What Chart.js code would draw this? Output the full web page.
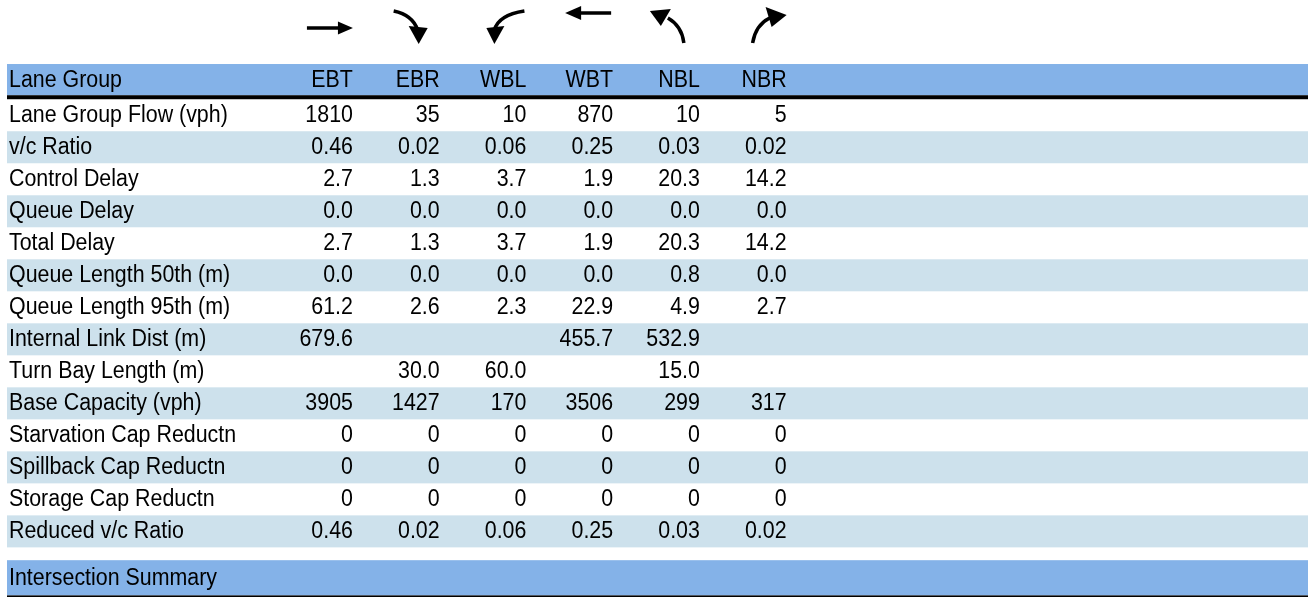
<!DOCTYPE HTML>
<html>
<head>
    <script src="https://cdn.jsdelivr.net/npm/chart.js"></script>
    <style>
        html, body { margin: 0; padding: 0; background: #ffffff; }
        #chartContainer { width: 1308px; height: 597px; }
    </style>
</head>
<body>

<div id="chartContainer">
    <canvas id="myChart" width="1308" height="597"></canvas>
</div>

<script type="text/javascript">
    // table content
    const headerLabel = 'Lane Group';
    const summaryLabel = 'Intersection Summary';
    const colLabels = ['EBT', 'EBR', 'WBL', 'WBT', 'NBL', 'NBR'];
    const rowLabels = [
        'Lane Group Flow (vph)',
        'v/c Ratio',
        'Control Delay',
        'Queue Delay',
        'Total Delay',
        'Queue Length 50th (m)',
        'Queue Length 95th (m)',
        'Internal Link Dist (m)',
        'Turn Bay Length (m)',
        'Base Capacity (vph)',
        'Starvation Cap Reductn',
        'Spillback Cap Reductn',
        'Storage Cap Reductn',
        'Reduced v/c Ratio'
    ];
    const rowDecimals = [0, 2, 1, 1, 1, 1, 1, 1, 1, 0, 0, 0, 0, 2];

    const ebt = [1810, 0.46, 2.7, 0.0, 2.7, 0.0, 61.2, 679.6, null, 3905, 0, 0, 0, 0.46];
    const ebr = [35, 0.02, 1.3, 0.0, 1.3, 0.0, 2.6, null, 30.0, 1427, 0, 0, 0, 0.02];
    const wbl = [10, 0.06, 3.7, 0.0, 3.7, 0.0, 2.3, null, 60.0, 170, 0, 0, 0, 0.06];
    const wbt = [870, 0.25, 1.9, 0.0, 1.9, 0.0, 22.9, 455.7, null, 3506, 0, 0, 0, 0.25];
    const nbl = [10, 0.03, 20.3, 0.0, 20.3, 0.8, 4.9, 532.9, 15.0, 299, 0, 0, 0, 0.03];
    const nbr = [5, 0.02, 14.2, 0.0, 14.2, 0.0, 2.7, null, null, 317, 0, 0, 0, 0.02];

    const columns = [ebt, ebr, wbl, wbt, nbl, nbr];

    const headerBlue = 'rgb(132,178,232)';
    const stripeBlue = 'rgb(205,225,236)';
    const textFont = '23px "Liberation Sans", Arial, sans-serif';
    const textSqueeze = 0.93;   // the report font is a bit condensed

    // condensed text helper
    function putText(ctx, str, px, py, align) {
        ctx.save();
        ctx.translate(px, py);
        ctx.scale(textSqueeze, 1);
        ctx.textAlign = align;
        ctx.fillText(str, 0, 0);
        ctx.restore();
    }

    // turn arrows, drawn relative to the right edge of their column
    function drawArrow(ctx, name, R) {
        ctx.save();
        ctx.strokeStyle = '#000';
        ctx.fillStyle = '#000';
        ctx.lineWidth = 3.5;
        ctx.beginPath();
        if (name == 'EBT') {
            ctx.moveTo(R - 47, 28); ctx.lineTo(R - 14, 28);
            ctx.stroke();
            ctx.beginPath();
            ctx.moveTo(R - 16, 21.5); ctx.lineTo(R - 1, 28); ctx.lineTo(R - 16, 34.5);
        } else if (name == 'EBR') {
            ctx.moveTo(R - 47, 11); ctx.quadraticCurveTo(R - 28, 15, R - 23, 30);
            ctx.stroke();
            ctx.beginPath();
            ctx.moveTo(R - 32, 26); ctx.lineTo(R - 13, 28); ctx.lineTo(R - 22, 44);
        } else if (name == 'WBL') {
            ctx.moveTo(R - 3, 11); ctx.quadraticCurveTo(R - 29, 15, R - 33, 30);
            ctx.stroke();
            ctx.beginPath();
            ctx.moveTo(R - 41, 28); ctx.lineTo(R - 23, 26); ctx.lineTo(R - 33, 44);
        } else if (name == 'WBT') {
            ctx.moveTo(R - 3, 13); ctx.lineTo(R - 34, 13);
            ctx.stroke();
            ctx.beginPath();
            ctx.moveTo(R - 49, 13); ctx.lineTo(R - 33, 6); ctx.lineTo(R - 33, 20);
        } else if (name == 'NBL') {
            ctx.moveTo(R - 17, 43); ctx.quadraticCurveTo(R - 19, 26, R - 33, 18);
            ctx.stroke();
            ctx.beginPath();
            ctx.moveTo(R - 51, 11); ctx.lineTo(R - 30, 9); ctx.lineTo(R - 40, 26);
        } else if (name == 'NBR') {
            ctx.moveTo(R - 35, 43); ctx.quadraticCurveTo(R - 32, 25, R - 18, 18);
            ctx.stroke();
            ctx.beginPath();
            ctx.moveTo(R - 1, 15); ctx.lineTo(R - 22, 7); ctx.lineTo(R - 16, 27);
        }
        ctx.closePath();
        ctx.fill();
        ctx.restore();
    }

    const tablePlugin = {
        id: 'tablePlugin',
        beforeDatasetsDraw(chart) {
            const ctx = chart.ctx;
            const x = chart.scales.x;
            const y = chart.scales.y;
            const left = x.getPixelForValue(0);
            const right = x.getPixelForValue(15);

            function band(y0, y1, color) {
                const p0 = y.getPixelForValue(y0);
                const p1 = y.getPixelForValue(y1);
                ctx.fillStyle = color;
                ctx.fillRect(left, p0, right - left, p1 - p0);
            }

            ctx.save();

            // header band + rule
            band(-1.1, -0.125, headerBlue);
            band(-0.125, 0, '#000');

            // striped rows
            for (let i = 0; i < rowLabels.length; i++) {
                if (i % 2 == 1) band(i, i + 1, stripeBlue);
            }

            // summary band + rule
            band(14.4, 15.5, headerBlue);
            band(15.5, 15.7, '#000');

            ctx.font = textFont;
            ctx.fillStyle = '#000';
            ctx.textBaseline = 'middle';

            // header row
            const hy = y.getPixelForValue(-0.58);
            putText(ctx, headerLabel, left + 2, hy, 'left');
            for (let j = 0; j < colLabels.length; j++) {
                putText(ctx, colLabels[j], x.getPixelForValue(4 + j) - 1, hy, 'right');
            }

            // body
            for (let i = 0; i < rowLabels.length; i++) {
                const cy = y.getPixelForValue(i + 0.5) + 0.5;
                putText(ctx, rowLabels[i], left + 2, cy, 'left');
                for (let j = 0; j < columns.length; j++) {
                    const v = columns[j][i];
                    if (v === null) continue;
                    putText(ctx, v.toFixed(rowDecimals[i]), x.getPixelForValue(4 + j) - 1, cy, 'right');
                }
            }

            // summary row
            putText(ctx, summaryLabel, left + 2, y.getPixelForValue(14.97), 'left');

            // movement arrows
            for (let j = 0; j < colLabels.length; j++) {
                drawArrow(ctx, colLabels[j], x.getPixelForValue(4 + j));
            }

            ctx.restore();
        }
    };

    const config = {
        type: 'scatter',
        data: { datasets: [{ data: [] }] },
        options: {
            responsive: false,
            animation: false,
            layout: { padding: { left: 7, right: -4, top: 0, bottom: 0 } },
            plugins: { legend: { display: false }, tooltip: { enabled: false } },
            scales: {
                x: { type: 'linear', min: 0, max: 15, display: false },
                y: { type: 'linear', min: -3.1, max: 15.55, reverse: true, display: false }
            }
        },
        plugins: [tablePlugin]
    };

    const myChart = new Chart(document.getElementById('myChart'), config);
</script>
</body>
</html>
